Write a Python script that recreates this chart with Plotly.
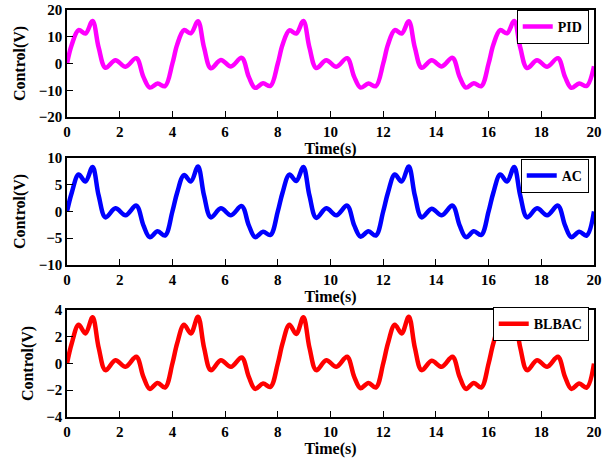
import plotly.graph_objects as go

# ---- data ----
time_s = [
    0.00, 0.18, 0.44, 0.70, 0.97, 1.20, 1.46, 1.84, 2.22, 2.63, 2.90, 3.14, 3.44, 3.72,
    4.00, 4.18, 4.44, 4.70, 4.97, 5.20, 5.46, 5.84, 6.22, 6.63, 6.90, 7.14, 7.44, 7.72,
    8.00, 8.18, 8.44, 8.70, 8.97, 9.20, 9.46, 9.84, 10.22, 10.63, 10.90, 11.14, 11.44, 11.72,
    12.00, 12.18, 12.44, 12.70, 12.97, 13.20, 13.46, 13.84, 14.22, 14.63, 14.90, 15.14, 15.44, 15.72,
    16.00, 16.18, 16.44, 16.70, 16.97, 17.20, 17.46, 17.84, 18.22, 18.63, 18.90, 19.14, 19.44, 19.72,
    20.00,
]
pid_v = [
    0.0, 7.0, 12.5, 11.2, 15.9, 6.0, -1.6, 1.2, -1.2, 2.0, -5.0, -9.0, -7.5, -8.5,
    0.0, 7.0, 12.5, 11.3, 15.8, 6.0, -1.8, 1.3, -1.1, 2.1, -5.0, -9.1, -7.4, -8.4,
    0.0, 7.0, 12.4, 11.2, 15.9, 6.0, -1.7, 1.2, -1.2, 2.0, -5.0, -9.0, -7.5, -8.5,
    0.0, 7.0, 12.5, 11.2, 15.8, 6.0, -1.6, 1.2, -1.1, 2.1, -5.0, -9.0, -7.4, -8.5,
    0.0, 7.0, 12.5, 11.3, 15.9, 6.0, -1.7, 1.2, -1.2, 2.0, -5.0, -9.1, -7.5, -8.4,
    -1.0,
]
ac_v = [
    0.0, 3.5, 6.9, 5.6, 8.3, 3.0, -1.1, 0.6, -0.7, 1.1, -2.6, -4.8, -3.7, -4.5,
    0.0, 3.5, 6.8, 5.6, 8.4, 3.0, -1.1, 0.6, -0.7, 1.0, -2.6, -4.8, -3.8, -4.4,
    0.0, 3.5, 6.9, 5.7, 8.3, 3.0, -1.2, 0.6, -0.7, 1.1, -2.6, -4.7, -3.7, -4.5,
    0.0, 3.5, 6.9, 5.6, 8.4, 3.0, -1.1, 0.5, -0.7, 1.1, -2.6, -4.8, -3.7, -4.4,
    0.0, 3.5, 6.9, 5.6, 8.3, 3.0, -1.1, 0.6, -0.7, 1.1, -2.6, -4.8, -3.8, -4.5,
    0.0,
]
blbac_v = [
    0.0, 1.5, 2.9, 2.25, 3.45, 1.2, -0.5, 0.25, -0.25, 0.5, -1.0, -1.9, -1.45, -1.8,
    0.0, 1.5, 2.9, 2.25, 3.5, 1.2, -0.5, 0.25, -0.25, 0.45, -1.0, -1.9, -1.5, -1.75,
    0.0, 1.5, 2.9, 2.2, 3.45, 1.2, -0.5, 0.25, -0.25, 0.5, -1.0, -1.85, -1.45, -1.8,
    0.0, 1.5, 2.9, 2.25, 3.5, 1.2, -0.5, 0.2, -0.25, 0.5, -1.0, -1.9, -1.45, -1.8,
    0.0, 1.5, 2.9, 2.25, 3.45, 1.2, -0.5, 0.25, -0.25, 0.5, -1.0, -1.9, -1.5, -1.8,
    0.0,
]
series_names = ["PID", "AC", "BLBAC"]
series_colors = ["#ff00ff", "#0000ff", "#ff0000"]
y_ranges = [[-20, 20], [-10, 10], [-4, 4]]
y_dtick = [10, 5, 2]
x_ticks = [0, 2, 4, 6, 8, 10, 12, 14, 16, 18, 20]
x_title = "Time(s)"
y_title = "Control(V)"

# ---- figure ----
FONT = "Liberation Serif"
domains = [[0.7371, 1.0], [0.3735, 0.6364], [0.0, 0.2629]]
legend_tops = [1.0, 0.634, 0.270]

fig = go.Figure()
values = [pid_v, ac_v, blbac_v]
for i in range(3):
    n = "" if i == 0 else str(i + 1)
    fig.add_trace(go.Scatter(
        x=time_s, y=values[i], mode="lines", name=series_names[i],
        line=dict(color=series_colors[i], width=4.5, shape="spline", smoothing=1.0),
        xaxis="x" + n, yaxis="y" + n, legend="legend" + n,
    ))
    axis_common = dict(
        showline=True, linecolor="black", linewidth=1.5, mirror=True,
        ticks="inside", ticklen=6, tickwidth=1.2, tickcolor="black",
        showgrid=False, zeroline=False, automargin=False,
        tickfont=dict(family=FONT, size=15, color="black", weight="bold"),
    )
    fig.layout["xaxis" + n] = dict(
        axis_common, domain=[0, 1], anchor="y" + n, range=[0, 20],
        tickvals=x_ticks, ticktext=[str(v) for v in x_ticks],
        title=dict(text=x_title, standoff=0,
                   font=dict(family=FONT, size=16, color="black", weight="bold")),
    )
    fig.layout["yaxis" + n] = dict(
        axis_common, domain=domains[i], anchor="x" + n, range=y_ranges[i],
        dtick=y_dtick[i], tick0=0,
        title=dict(text=y_title, standoff=9,
                   font=dict(family=FONT, size=16, color="black", weight="bold")),
    )
    fig.layout["legend" + n] = dict(
        x=0.99, xanchor="right", y=legend_tops[i], yanchor="top",
        bgcolor="white", bordercolor="black", borderwidth=1,
        font=dict(family=FONT, size=14, color="black", weight="bold"),
        itemwidth=30, tracegroupgap=0,
    )

fig.update_layout(
    width=612, height=458,
    margin=dict(l=67, r=18, t=10, b=41, autoexpand=False),
    paper_bgcolor="white", plot_bgcolor="white",
    showlegend=True,
)
fig.write_html("out.html", config={"displayModeBar": False},
               post_script="document.body.style.margin='0';")
